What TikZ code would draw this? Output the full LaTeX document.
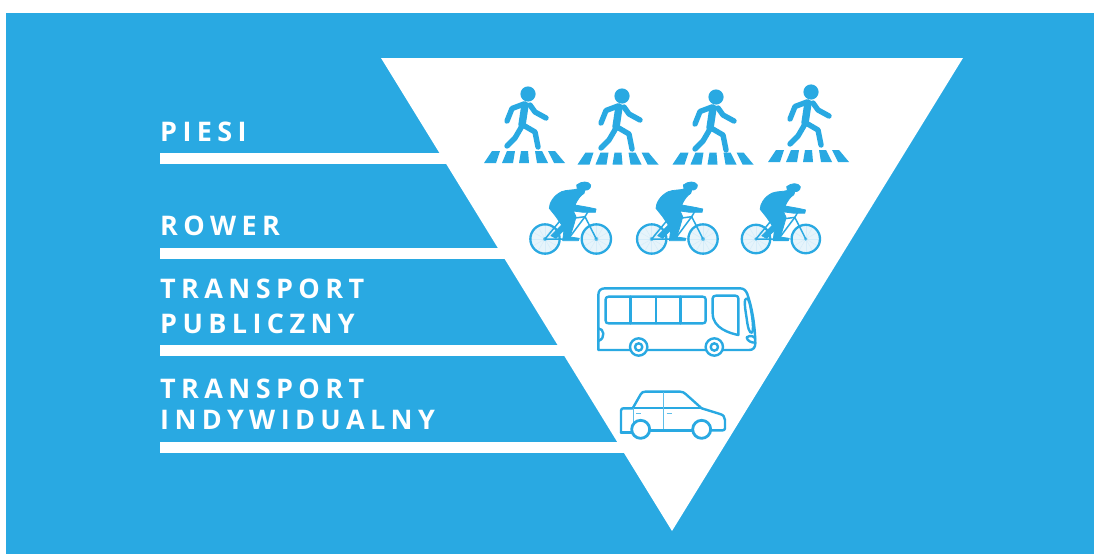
\documentclass[tikz,border=0pt]{standalone}
\usepackage{fontspec}
\setmainfont{Open Sans}
\newfontfamily\lblfont[LetterSpace=20]{Open Sans}
\definecolor{skyb}{HTML}{29A9E2}
\definecolor{spoke}{HTML}{D5ECF9}
\tikzset{
 lbl/.style={text=white,anchor=base west,inner sep=0pt,font=\fontsize{27}{30}\lblfont\bfseries},
 bar/.style={fill=white,draw=none},
 limb/.style={draw=skyb,line width=5.4pt,line cap=round,line join=round},
 stripe/.style={fill=skyb,draw=none},
 frame/.style={draw=skyb,line width=1.5pt,line cap=round,line join=round},
 outl/.style={draw=skyb,line width=2.4pt,line cap=round,line join=round},
 thinl/.style={draw=skyb!75,line width=1.3pt},
}
\newcommand{\walker}[4]{% head x,y ; crossing offset x,y
 \begin{scope}[shift={(#1,#2)}]
  \fill[skyb] (0,0) circle (7.6);
  \draw[limb,line width=7.4pt] (-3,11) -- (-6,31);
  \draw[limb] (-4,10) -- (-16,14.5) -- (-21,27);
  \draw[limb] (2,11) -- (7,18) -- (18,24);
  \draw[limb] (-6,32) -- (-13,44) -- (-21,52);
  \draw[limb] (-5,31) -- (7,38) -- (10,53);
  \begin{scope}[shift={(#3,#4)}]
   \fill[stripe] (-35,58) -- (-27,58) -- (-31,70) -- (-43,70) -- cycle;
   \fill[stripe] (-20,58) -- (-12,58) -- (-14,70) -- (-25,70) -- cycle;
   \fill[stripe] (-6,58) -- (1,58) -- (2,70) -- (-8,70) -- cycle;
   \fill[stripe] (8,58) -- (15,58) -- (21,70) -- (10,70) -- cycle;
   \fill[stripe] (21,58) -- (28,58) -- (38,70) -- (27,70) -- cycle;
  \end{scope}
 \end{scope}}
\newcommand{\wheelb}[2]{%
 \fill[spoke!60] (#1,#2) circle (44);
 \foreach \a in {0,30,...,330}{\draw[spoke,line width=.5pt] (#1,#2) -- ++(\a:43);}
 \draw[skyb,line width=2.3pt] (#1,#2) circle (44);
 \fill[skyb!70] (#1,#2) circle (6);}
\newcommand{\cyclist}[3]{% rear wheel centre, scale
 \begin{scope}[shift={(#1,#2)},x=#3*0.3333pt,y=-#3*0.3333pt]
  \begin{scope}[shift={(-75,-192)}]
  \wheelb{75}{192}
  \wheelb{229}{192}
  \draw[frame] (75,192) -- (145,192) -- (195,125) -- (229,192);
  \draw[frame] (75,192) -- (122,135) -- (195,125);
  \draw[frame] (122,135) -- (145,192);
  \draw[frame] (195,125) -- (205,108);
  \filldraw[skyb,line width=.8pt,line join=round] (170,30) .. controls (185,18) and (205,18) .. (212,30) .. controls (213,40) and (203,47) .. (195,45)
    -- (192,55) .. controls (180,62) and (172,75) .. (165,90) -- (205,97) -- (228,102) -- (226,112) -- (190,112)
    -- (160,108) -- (168,125) .. controls (162,150) and (155,170) .. (150,186) -- (178,190) -- (175,197) -- (128,197)
    -- (132,165) -- (108,190) -- (93,182) -- (125,150) -- (108,125) -- (88,100) .. controls (88,85) and (100,62) .. (125,50)
    .. controls (140,44) and (160,46) .. (172,42) -- cycle;
  \end{scope}
 \end{scope}}
\begin{document}
\begin{tikzpicture}[x=1pt,y=-1pt]
\useasboundingbox (0,0) rectangle (1094,554);
\fill[skyb] (6,13) rectangle (1094,554);
\fill[white] (381,58) -- (963,58) -- (672,531) -- cycle;
% bars
\fill[bar] (159.5,153) rectangle (455,163.5);
\fill[bar] (159.5,248) rectangle (512,258.5);
\fill[bar] (159.5,345) rectangle (572,355.5);
\fill[bar] (159.5,442) rectangle (632,452.5);
% labels
\node[lbl] (piesi) at (160,141) {PIESI};
\node[lbl] (rower) at (160,235) {ROWER};
\node[lbl] (tp1) at (160,298) {TRANSPORT};
\node[lbl] (tp2) at (160,333) {PUBLICZNY};
\node[lbl] (ti1) at (160,398) {TRANSPORT};
\node[lbl] (ti2) at (160,429) {INDYWIDUALNY};
% walkers
\walker{528}{94}{-1}{-1}
\walker{622}{96}{-1.5}{-1.5}
\walker{716}{97}{-.5}{-2.5}
\walker{811}{92}{0}{0}
% cyclists
\cyclist{545}{239}{1}
\cyclist{651.7}{239}{1}
\cyclist{756}{239}{.97}
% bus
\begin{scope}[shift={(590,280)},x=.3333pt,y=-.3333pt]
 \draw[outl] (25,45) .. controls (25,32) and (32,25) .. (45,25) -- (450,25) .. controls (462,25) and (468,32) .. (472,42)
   .. controls (485,80) and (495,130) .. (496,190) .. controls (496,202) and (490,210) .. (478,210) -- (25,210) -- cycle;
 \draw[outl] (56,50) -- (338,50) .. controls (344,50) and (347,53) .. (347,58) -- (347,122) .. controls (347,128) and (344,130) .. (338,130)
   -- (56,130) .. controls (50,130) and (47,128) .. (47,122) -- (47,58) .. controls (47,53) and (50,50) .. (56,50) -- cycle;
 \draw[outl] (122,50) -- (122,130) (198,50) -- (198,130) (272,50) -- (272,130);
 \draw[outl] (368,55) .. controls (368,50) and (372,47) .. (378,47) -- (436,47) .. controls (442,47) and (445,50) .. (445,55)
   -- (445,165) .. controls (420,160) and (368,145) .. (368,100) -- cycle;
 \draw[outl] (465,60) .. controls (472,48) and (478,60) .. (482,85) .. controls (488,115) and (492,150) .. (486,158) .. controls (478,162) and (473,140) .. (470,115) .. controls (467,95) and (463,75) .. (465,60) -- cycle;
 \draw[outl] (25,145) .. controls (42,145) and (48,175) .. (25,183);
 \draw[outl] (470,172) .. controls (480,165) and (492,168) .. (495,175) -- (495,188) .. controls (485,188) and (472,184) .. (470,172) -- cycle;
 \foreach \cx in {146,373}{
  \draw[outl,fill=white] (\cx,201) circle (26);
  \draw[outl] (\cx,201) circle (11);
 }
 % car
 \draw[outl] (93,458) -- (93,392) .. controls (93,387) and (96,385) .. (100,385) -- (128,385) -- (152,343) .. controls (155,337) and (160,335) .. (166,335)
   -- (270,335) .. controls (278,335) and (282,338) .. (288,343) -- (335,385) -- (390,402) .. controls (400,405) and (404,410) .. (405,420) -- (405,445) .. controls (405,449) and (402,451) .. (398,451) -- (308,451);
 \draw[outl] (128,384) -- (335,384);
 \draw[thinl] (220,336) -- (220,451);
 \draw[thinl] (130,385) -- (130,428);
 \draw[thinl] (138,400) -- (154,400) (230,400) -- (246,400);
 \draw[outl] (93,458) -- (125,458) (180,451) -- (308,451);
 \foreach \cx in {152,335}{
  \draw[outl,fill=white,line width=2.8pt] (\cx,448) circle (27);
 }
\end{scope}
\end{tikzpicture}
\end{document}
